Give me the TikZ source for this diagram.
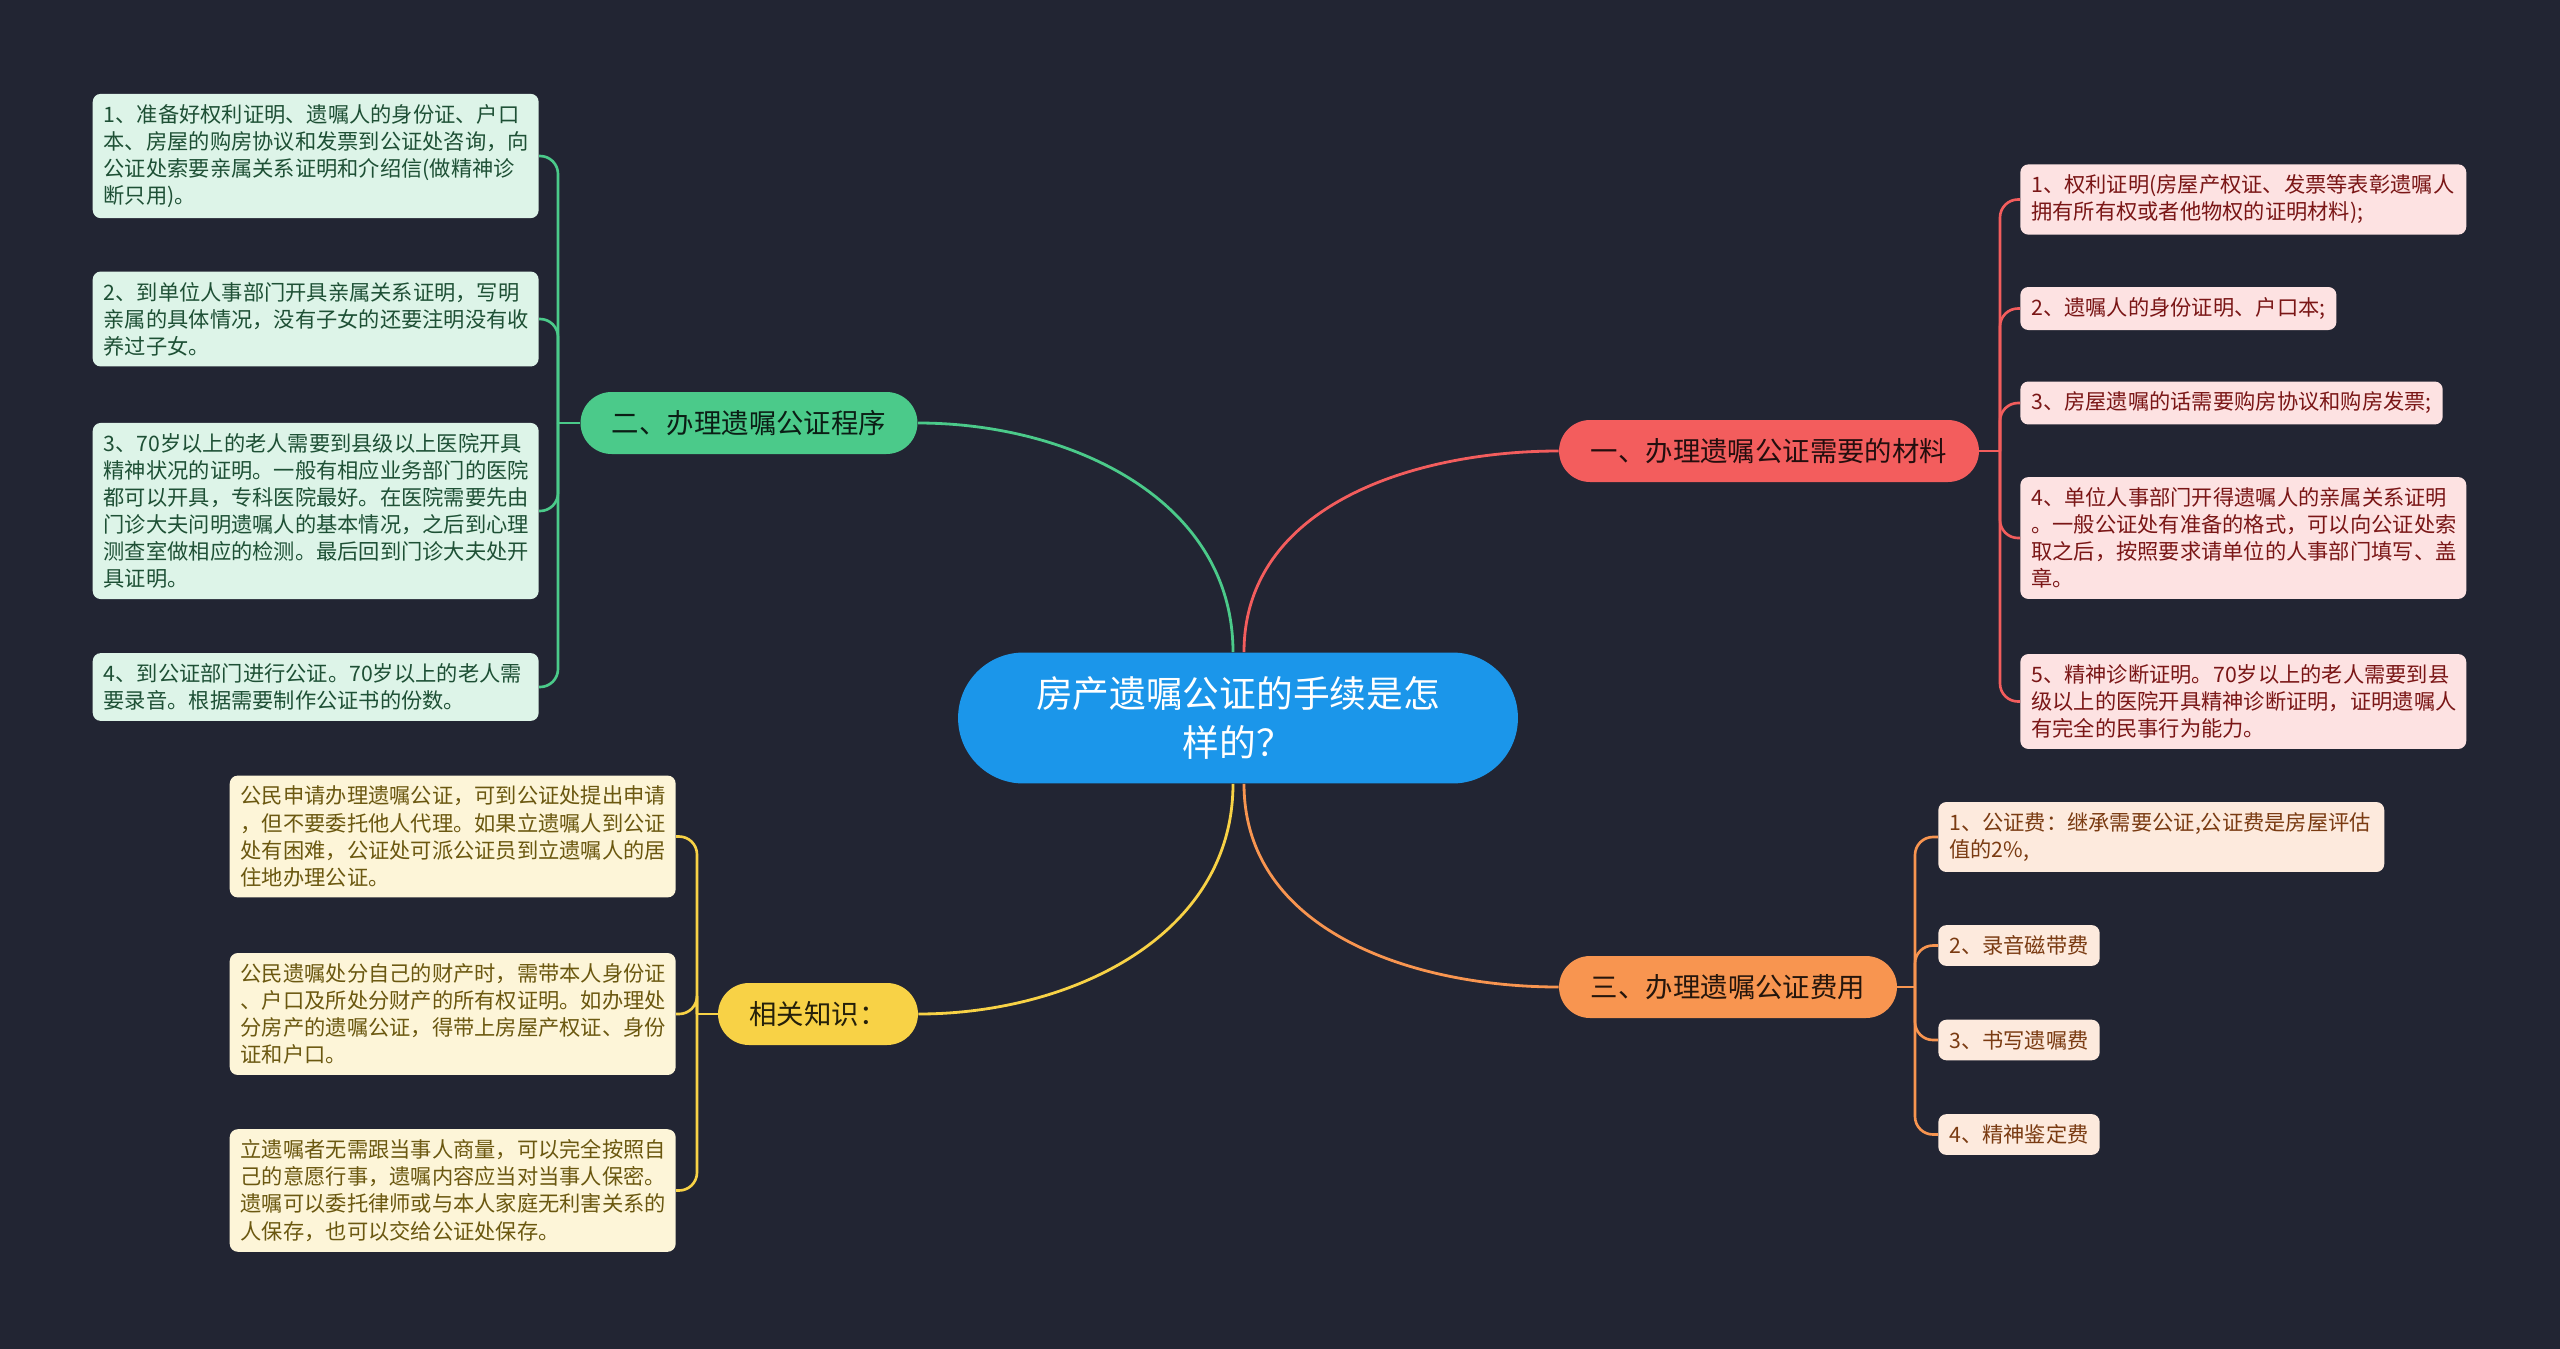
\documentclass[tikz,border=0pt]{standalone}
\usepackage{fontspec}
\setmainfont{Noto Sans CJK SC}

\definecolor{bgdark}{HTML}{222533}
\definecolor{rootblue}{HTML}{1B96EA}
\definecolor{redmain}{HTML}{F35D5D}
\definecolor{redleaf}{HTML}{FDE2E2}
\definecolor{redtext}{HTML}{7A1616}
\definecolor{greenmain}{HTML}{4BCA8A}
\definecolor{greenleaf}{HTML}{DDF4E8}
\definecolor{greentext}{HTML}{1E5035}
\definecolor{orangemain}{HTML}{F89550}
\definecolor{orangeleaf}{HTML}{FDEADD}
\definecolor{orangetext}{HTML}{7A3B12}
\definecolor{yellowmain}{HTML}{F8D246}
\definecolor{yellowleaf}{HTML}{FDF5D8}
\definecolor{yellowtext}{HTML}{6B5810}

\tikzset{
  root/.style={fill=rootblue, text=white, rounded corners=1.31cm,
    minimum width=11.2cm, minimum height=2.62cm, align=center,
    font=\fontsize{20.9}{27.9}\selectfont},
  topic/.style={rounded corners=0.62cm, minimum height=1.24cm,
    inner xsep=0pt, font=\fontsize{15.6}{19}\selectfont},
  leaf/.style={rounded corners=0.16cm, align=left, inner xsep=0.22cm,
    inner ysep=0.21cm, font=\fontsize{12.1}{15.4}\selectfont},
  wide/.style={text width=8.48cm},
  link/.style={line width=1.6pt},
  twig/.style={line width=1.5pt, rounded corners=0.36cm},
}

\begin{document}
\begin{tikzpicture}[x=0.02cm, y=-0.02cm]
  % Background
  \fill[bgdark] (0,0) rectangle (2560,1349);
  \useasboundingbox (0,0) rectangle (2560,1349);

  % Root
  \node[root] (root) at (1238,718) {房产遗嘱公证的手续是怎\\样的？};

  % Main topics
  \node[topic, fill=redmain, text=black!85!redmain, minimum width=8.4cm] (mat) at (1769,451) {一、办理遗嘱公证需要的材料};
  \node[topic, fill=greenmain, text=black!85!greenmain, minimum width=6.74cm] (proc) at (749,423) {二、办理遗嘱公证程序};
  \node[topic, fill=orangemain, text=black!85!orangemain, minimum width=6.76cm] (fee) at (1728,987) {三、办理遗嘱公证费用};
  \node[topic, fill=yellowmain, text=black!85!yellowmain, minimum width=4cm] (know) at (818,1014) {相关知识：};

  \draw[link, redmain] ([xshift=0.12cm]root.north) to[out=90, in=180] (mat.west);
  \draw[link, greenmain] ([xshift=-0.1cm]root.north) to[out=90, in=0] (proc.east);
  \draw[link, orangemain] ([xshift=0.12cm]root.south) to[out=-90, in=180] (fee.west);
  \draw[link, yellowmain] ([xshift=-0.1cm]root.south) to[out=-90, in=0] (know.east);

  % Materials
  \node[leaf, wide, fill=redleaf, text=redtext, anchor=west] (m1) at (2020,199.5) {1、权利证明(房屋产权证、发票等表彰遗嘱人\\拥有所有权或者他物权的证明材料);};
  \node[leaf, fill=redleaf, text=redtext, anchor=west] (m2) at (2020,308.5) {2、遗嘱人的身份证明、户口本;};
  \node[leaf, fill=redleaf, text=redtext, anchor=west] (m3) at (2020,403) {3、房屋遗嘱的话需要购房协议和购房发票;};
  \node[leaf, wide, fill=redleaf, text=redtext, anchor=west] (m4) at (2020,538) {4、单位人事部门开得遗嘱人的亲属关系证明\\。一般公证处有准备的格式，可以向公证处索\\取之后，按照要求请单位的人事部门填写、盖\\章。};
  \node[leaf, wide, fill=redleaf, text=redtext, anchor=west] (m5) at (2020,701.5) {5、精神诊断证明。70岁以上的老人需要到县\\级以上的医院开具精神诊断证明，证明遗嘱人\\有完全的民事行为能力。};
  \draw[link, redmain] (mat.east) -- (2000,451) coordinate (matk);
  \foreach \n in {m1,m2,m3,m4,m5}
    \draw[twig, redmain] (matk) |- (\n.west);

  % Procedure
  \node[leaf, wide, fill=greenleaf, text=greentext, anchor=east] (p1) at (539,156) {1、准备好权利证明、遗嘱人的身份证、户口\\本、房屋的购房协议和发票到公证处咨询，向\\公证处索要亲属关系证明和介绍信(做精神诊\\断只用)。};
  \node[leaf, wide, fill=greenleaf, text=greentext, anchor=east] (p2) at (539,319) {2、到单位人事部门开具亲属关系证明，写明\\亲属的具体情况，没有子女的还要注明没有收\\养过子女。};
  \node[leaf, wide, fill=greenleaf, text=greentext, anchor=east] (p3) at (539,511) {3、70岁以上的老人需要到县级以上医院开具\\精神状况的证明。一般有相应业务部门的医院\\都可以开具，专科医院最好。在医院需要先由\\门诊大夫问明遗嘱人的基本情况，之后到心理\\测查室做相应的检测。最后回到门诊大夫处开\\具证明。};
  \node[leaf, wide, fill=greenleaf, text=greentext, anchor=east] (p4) at (539,687) {4、到公证部门进行公证。70岁以上的老人需\\要录音。根据需要制作公证书的份数。};
  \draw[link, greenmain] (proc.west) -- (558,423) coordinate (prock);
  \foreach \n in {p1,p2,p3,p4}
    \draw[twig, greenmain] (prock) |- (\n.east);

  % Fees
  \node[leaf, wide, fill=orangeleaf, text=orangetext, anchor=west] (f1) at (1938,837) {1、公证费：继承需要公证,公证费是房屋评估\\值的2\%,};
  \node[leaf, fill=orangeleaf, text=orangetext, anchor=west] (f2) at (1938,945.5) {2、录音磁带费};
  \node[leaf, fill=orangeleaf, text=orangetext, anchor=west] (f3) at (1938,1040) {3、书写遗嘱费};
  \node[leaf, fill=orangeleaf, text=orangetext, anchor=west] (f4) at (1938,1134.5) {4、精神鉴定费};
  \draw[link, orangemain] (fee.east) -- (1915,987) coordinate (feek);
  \foreach \n in {f1,f2,f3,f4}
    \draw[twig, orangemain] (feek) |- (\n.west);

  % Related knowledge
  \node[leaf, wide, fill=yellowleaf, text=yellowtext, anchor=east] (k1) at (676,836.5) {公民申请办理遗嘱公证，可到公证处提出申请\\，但不要委托他人代理。如果立遗嘱人到公证\\处有困难，公证处可派公证员到立遗嘱人的居\\住地办理公证。};
  \node[leaf, wide, fill=yellowleaf, text=yellowtext, anchor=east] (k2) at (676,1014) {公民遗嘱处分自己的财产时，需带本人身份证\\、户口及所处分财产的所有权证明。如办理处\\分房产的遗嘱公证，得带上房屋产权证、身份\\证和户口。};
  \node[leaf, wide, fill=yellowleaf, text=yellowtext, anchor=east] (k3) at (676,1190.5) {立遗嘱者无需跟当事人商量，可以完全按照自\\己的意愿行事，遗嘱内容应当对当事人保密。\\遗嘱可以委托律师或与本人家庭无利害关系的\\人保存，也可以交给公证处保存。};
  \draw[link, yellowmain] (know.west) -- (697,1014) coordinate (knowk);
  \foreach \n in {k1,k2,k3}
    \draw[twig, yellowmain] (knowk) |- (\n.east);
\end{tikzpicture}
\end{document}
